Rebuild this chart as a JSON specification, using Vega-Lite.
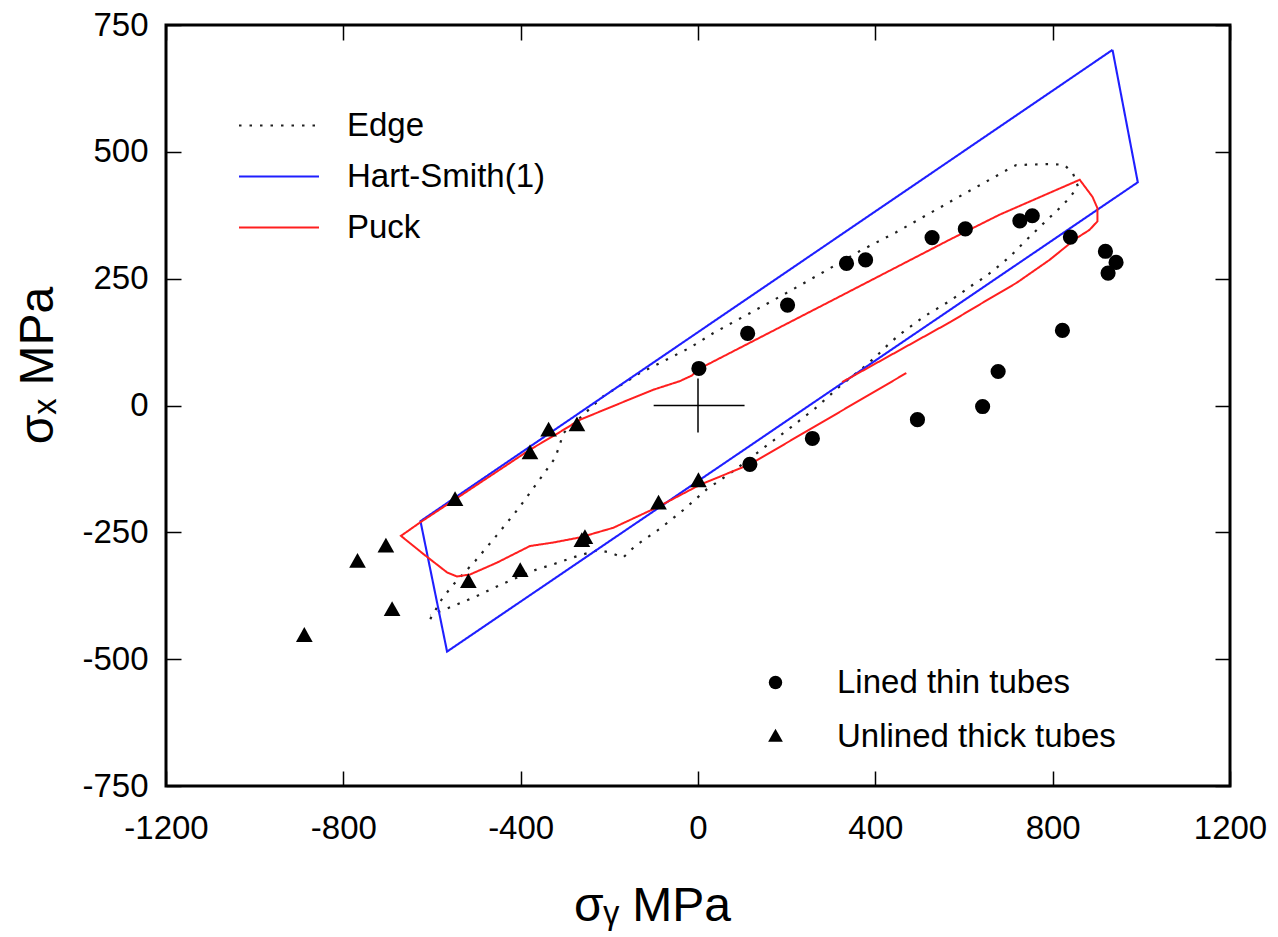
{
  "$schema": "https://vega.github.io/schema/vega-lite/v6.json",
  "width": 1064,
  "height": 761,
  "autosize": {"type": "none"},
  "padding": {"left": 166, "top": 25, "right": 48, "bottom": 151},
  "background": "white",
  "config": {
    "view": {"stroke": "black", "strokeWidth": 3},
    "axis": {
      "grid": false, "domain": false,
      "labelFont": "Liberation Sans", "labelFontSize": 33, "labelColor": "black",
      "labelFlush": false, "labelOverlap": false, "labelExpr": "'' + datum.value",
      "tickColor": "black", "tickWidth": 1.5, "tickSize": -15,
      "titleFont": "Liberation Sans", "titleFontSize": 48, "titleFontWeight": "normal", "titleColor": "black"
    },
    "legend": {"labelFont": "Liberation Sans", "labelFontSize": 33, "labelColor": "black", "padding": 0, "labelLimit": 0}
  },
  "datasets": {
    "curves": [
      {"series": "Edge", "seg": "E", "i": 1, "sigma_y": -604, "sigma_x": -421},
      {"series": "Edge", "seg": "E", "i": 2, "sigma_y": -578, "sigma_x": -382},
      {"series": "Edge", "seg": "E", "i": 3, "sigma_y": -555, "sigma_x": -356},
      {"series": "Edge", "seg": "E", "i": 4, "sigma_y": -502, "sigma_x": -306},
      {"series": "Edge", "seg": "E", "i": 5, "sigma_y": -454, "sigma_x": -256},
      {"series": "Edge", "seg": "E", "i": 6, "sigma_y": -405, "sigma_x": -203},
      {"series": "Edge", "seg": "E", "i": 7, "sigma_y": -364, "sigma_x": -154},
      {"series": "Edge", "seg": "E", "i": 8, "sigma_y": -322, "sigma_x": -103},
      {"series": "Edge", "seg": "E", "i": 9, "sigma_y": -303, "sigma_x": -54},
      {"series": "Edge", "seg": "E", "i": 10, "sigma_y": -214, "sigma_x": 18},
      {"series": "Edge", "seg": "E", "i": 11, "sigma_y": -131, "sigma_x": 64},
      {"series": "Edge", "seg": "E", "i": 12, "sigma_y": -74, "sigma_x": 89},
      {"series": "Edge", "seg": "E", "i": 13, "sigma_y": -18, "sigma_x": 114},
      {"series": "Edge", "seg": "E", "i": 14, "sigma_y": 35, "sigma_x": 143},
      {"series": "Edge", "seg": "E", "i": 15, "sigma_y": 117, "sigma_x": 182},
      {"series": "Edge", "seg": "E", "i": 16, "sigma_y": 200, "sigma_x": 222},
      {"series": "Edge", "seg": "E", "i": 17, "sigma_y": 281, "sigma_x": 262},
      {"series": "Edge", "seg": "E", "i": 18, "sigma_y": 364, "sigma_x": 304},
      {"series": "Edge", "seg": "E", "i": 19, "sigma_y": 446, "sigma_x": 341},
      {"series": "Edge", "seg": "E", "i": 20, "sigma_y": 527, "sigma_x": 381},
      {"series": "Edge", "seg": "E", "i": 21, "sigma_y": 608, "sigma_x": 421},
      {"series": "Edge", "seg": "E", "i": 22, "sigma_y": 664, "sigma_x": 448},
      {"series": "Edge", "seg": "E", "i": 23, "sigma_y": 690, "sigma_x": 461},
      {"series": "Edge", "seg": "E", "i": 24, "sigma_y": 718, "sigma_x": 474},
      {"series": "Edge", "seg": "E", "i": 25, "sigma_y": 799, "sigma_x": 476},
      {"series": "Edge", "seg": "E", "i": 26, "sigma_y": 827, "sigma_x": 474},
      {"series": "Edge", "seg": "E", "i": 27, "sigma_y": 846, "sigma_x": 457},
      {"series": "Edge", "seg": "E", "i": 28, "sigma_y": 857, "sigma_x": 432},
      {"series": "Edge", "seg": "E", "i": 29, "sigma_y": 838, "sigma_x": 409},
      {"series": "Edge", "seg": "E", "i": 30, "sigma_y": 812, "sigma_x": 386},
      {"series": "Edge", "seg": "E", "i": 31, "sigma_y": 784, "sigma_x": 363},
      {"series": "Edge", "seg": "E", "i": 32, "sigma_y": 757, "sigma_x": 340},
      {"series": "Edge", "seg": "E", "i": 33, "sigma_y": 729, "sigma_x": 316},
      {"series": "Edge", "seg": "E", "i": 34, "sigma_y": 703, "sigma_x": 293},
      {"series": "Edge", "seg": "E", "i": 35, "sigma_y": 673, "sigma_x": 271},
      {"series": "Edge", "seg": "E", "i": 36, "sigma_y": 647, "sigma_x": 253},
      {"series": "Edge", "seg": "E", "i": 37, "sigma_y": 620, "sigma_x": 238},
      {"series": "Edge", "seg": "E", "i": 38, "sigma_y": 594, "sigma_x": 222},
      {"series": "Edge", "seg": "E", "i": 39, "sigma_y": 566, "sigma_x": 205},
      {"series": "Edge", "seg": "E", "i": 40, "sigma_y": 511, "sigma_x": 176},
      {"series": "Edge", "seg": "E", "i": 41, "sigma_y": 455, "sigma_x": 140},
      {"series": "Edge", "seg": "E", "i": 42, "sigma_y": 429, "sigma_x": 120},
      {"series": "Edge", "seg": "E", "i": 43, "sigma_y": 403, "sigma_x": 98},
      {"series": "Edge", "seg": "E", "i": 44, "sigma_y": 376, "sigma_x": 77},
      {"series": "Edge", "seg": "E", "i": 45, "sigma_y": 320, "sigma_x": 38},
      {"series": "Edge", "seg": "E", "i": 46, "sigma_y": 268, "sigma_x": -3},
      {"series": "Edge", "seg": "E", "i": 47, "sigma_y": 211, "sigma_x": -42},
      {"series": "Edge", "seg": "E", "i": 48, "sigma_y": 155, "sigma_x": -79},
      {"series": "Edge", "seg": "E", "i": 49, "sigma_y": 80, "sigma_x": -129},
      {"series": "Edge", "seg": "E", "i": 50, "sigma_y": 20, "sigma_x": -165},
      {"series": "Edge", "seg": "E", "i": 51, "sigma_y": -33, "sigma_x": -206},
      {"series": "Edge", "seg": "E", "i": 52, "sigma_y": -86, "sigma_x": -243},
      {"series": "Edge", "seg": "E", "i": 53, "sigma_y": -142, "sigma_x": -277},
      {"series": "Edge", "seg": "E", "i": 54, "sigma_y": -169, "sigma_x": -300},
      {"series": "Edge", "seg": "E", "i": 55, "sigma_y": -198, "sigma_x": -290},
      {"series": "Edge", "seg": "E", "i": 56, "sigma_y": -225, "sigma_x": -285},
      {"series": "Edge", "seg": "E", "i": 57, "sigma_y": -273, "sigma_x": -297},
      {"series": "Edge", "seg": "E", "i": 58, "sigma_y": -333, "sigma_x": -315},
      {"series": "Edge", "seg": "E", "i": 59, "sigma_y": -364, "sigma_x": -323},
      {"series": "Edge", "seg": "E", "i": 60, "sigma_y": -442, "sigma_x": -352},
      {"series": "Edge", "seg": "E", "i": 61, "sigma_y": -495, "sigma_x": -374},
      {"series": "Edge", "seg": "E", "i": 62, "sigma_y": -551, "sigma_x": -395},
      {"series": "Edge", "seg": "E", "i": 63, "sigma_y": -604, "sigma_x": -413},
      {"series": "Hart-Smith(1)", "seg": "H", "i": 1, "sigma_y": 935, "sigma_x": 701},
      {"series": "Hart-Smith(1)", "seg": "H", "i": 2, "sigma_y": 992, "sigma_x": 440},
      {"series": "Hart-Smith(1)", "seg": "H", "i": 3, "sigma_y": -566, "sigma_x": -485},
      {"series": "Hart-Smith(1)", "seg": "H", "i": 4, "sigma_y": -626, "sigma_x": -228},
      {"series": "Hart-Smith(1)", "seg": "H", "i": 5, "sigma_y": 935, "sigma_x": 701},
      {"series": "Puck", "seg": "P", "i": 1, "sigma_y": 325, "sigma_x": 46},
      {"series": "Puck", "seg": "P", "i": 2, "sigma_y": 568, "sigma_x": 164},
      {"series": "Puck", "seg": "P", "i": 3, "sigma_y": 643, "sigma_x": 203},
      {"series": "Puck", "seg": "P", "i": 4, "sigma_y": 719, "sigma_x": 242},
      {"series": "Puck", "seg": "P", "i": 5, "sigma_y": 793, "sigma_x": 287},
      {"series": "Puck", "seg": "P", "i": 6, "sigma_y": 854, "sigma_x": 330},
      {"series": "Puck", "seg": "P", "i": 7, "sigma_y": 883, "sigma_x": 346},
      {"series": "Puck", "seg": "P", "i": 8, "sigma_y": 901, "sigma_x": 363},
      {"series": "Puck", "seg": "P", "i": 9, "sigma_y": 901, "sigma_x": 389},
      {"series": "Puck", "seg": "P", "i": 10, "sigma_y": 890, "sigma_x": 411},
      {"series": "Puck", "seg": "P", "i": 11, "sigma_y": 861, "sigma_x": 445},
      {"series": "Puck", "seg": "P", "i": 12, "sigma_y": 680, "sigma_x": 376},
      {"series": "Puck", "seg": "P", "i": 13, "sigma_y": 568, "sigma_x": 327},
      {"series": "Puck", "seg": "P", "i": 14, "sigma_y": 300, "sigma_x": 206},
      {"series": "Puck", "seg": "P", "i": 15, "sigma_y": 2, "sigma_x": 72},
      {"series": "Puck", "seg": "P", "i": 16, "sigma_y": -14, "sigma_x": 59},
      {"series": "Puck", "seg": "P", "i": 17, "sigma_y": -41, "sigma_x": 48},
      {"series": "Puck", "seg": "P", "i": 18, "sigma_y": -101, "sigma_x": 31},
      {"series": "Puck", "seg": "P", "i": 19, "sigma_y": -160, "sigma_x": 10},
      {"series": "Puck", "seg": "P", "i": 20, "sigma_y": -266, "sigma_x": -28},
      {"series": "Puck", "seg": "P", "i": 21, "sigma_y": -326, "sigma_x": -60},
      {"series": "Puck", "seg": "P", "i": 22, "sigma_y": -379, "sigma_x": -87},
      {"series": "Puck", "seg": "P", "i": 23, "sigma_y": -548, "sigma_x": -185},
      {"series": "Puck", "seg": "P", "i": 24, "sigma_y": -626, "sigma_x": -230},
      {"series": "Puck", "seg": "P", "i": 25, "sigma_y": -670, "sigma_x": -257},
      {"series": "Puck", "seg": "P", "i": 26, "sigma_y": -619, "sigma_x": -293},
      {"series": "Puck", "seg": "P", "i": 27, "sigma_y": -566, "sigma_x": -329},
      {"series": "Puck", "seg": "P", "i": 28, "sigma_y": -544, "sigma_x": -337},
      {"series": "Puck", "seg": "P", "i": 29, "sigma_y": -514, "sigma_x": -333},
      {"series": "Puck", "seg": "P", "i": 30, "sigma_y": -454, "sigma_x": -310},
      {"series": "Puck", "seg": "P", "i": 31, "sigma_y": -379, "sigma_x": -277},
      {"series": "Puck", "seg": "P", "i": 32, "sigma_y": -326, "sigma_x": -270},
      {"series": "Puck", "seg": "P", "i": 33, "sigma_y": -266, "sigma_x": -260},
      {"series": "Puck", "seg": "P", "i": 34, "sigma_y": -191, "sigma_x": -241},
      {"series": "Puck", "seg": "P", "i": 35, "sigma_y": -93, "sigma_x": -201},
      {"series": "Puck", "seg": "P", "i": 36, "sigma_y": 5, "sigma_x": -156},
      {"series": "Puck", "seg": "P", "i": 37, "sigma_y": 117, "sigma_x": -116},
      {"series": "Puck", "seg": "P", "i": 38, "sigma_y": 470, "sigma_x": 64}
    ],
    "tests": [
      {"type": "Lined thin tubes", "sigma_y": 2, "sigma_x": 73},
      {"type": "Lined thin tubes", "sigma_y": 112, "sigma_x": 142},
      {"type": "Lined thin tubes", "sigma_y": 202, "sigma_x": 198},
      {"type": "Lined thin tubes", "sigma_y": 335, "sigma_x": 280},
      {"type": "Lined thin tubes", "sigma_y": 378, "sigma_x": 287},
      {"type": "Lined thin tubes", "sigma_y": 528, "sigma_x": 331},
      {"type": "Lined thin tubes", "sigma_y": 603, "sigma_x": 348},
      {"type": "Lined thin tubes", "sigma_y": 726, "sigma_x": 364},
      {"type": "Lined thin tubes", "sigma_y": 754, "sigma_x": 374},
      {"type": "Lined thin tubes", "sigma_y": 840, "sigma_x": 332},
      {"type": "Lined thin tubes", "sigma_y": 919, "sigma_x": 304},
      {"type": "Lined thin tubes", "sigma_y": 943, "sigma_x": 282},
      {"type": "Lined thin tubes", "sigma_y": 925, "sigma_x": 261},
      {"type": "Lined thin tubes", "sigma_y": 822, "sigma_x": 148},
      {"type": "Lined thin tubes", "sigma_y": 677, "sigma_x": 67},
      {"type": "Lined thin tubes", "sigma_y": 642, "sigma_x": -2},
      {"type": "Lined thin tubes", "sigma_y": 495, "sigma_x": -28},
      {"type": "Lined thin tubes", "sigma_y": 258, "sigma_x": -65},
      {"type": "Lined thin tubes", "sigma_y": 117, "sigma_x": -116},
      {"type": "Unlined thick tubes", "sigma_y": -888, "sigma_x": -454},
      {"type": "Unlined thick tubes", "sigma_y": -768, "sigma_x": -308},
      {"type": "Unlined thick tubes", "sigma_y": -704, "sigma_x": -278},
      {"type": "Unlined thick tubes", "sigma_y": -690, "sigma_x": -403},
      {"type": "Unlined thick tubes", "sigma_y": -548, "sigma_x": -186},
      {"type": "Unlined thick tubes", "sigma_y": -518, "sigma_x": -348},
      {"type": "Unlined thick tubes", "sigma_y": -401, "sigma_x": -326},
      {"type": "Unlined thick tubes", "sigma_y": -379, "sigma_x": -94},
      {"type": "Unlined thick tubes", "sigma_y": -337, "sigma_x": -49},
      {"type": "Unlined thick tubes", "sigma_y": -273, "sigma_x": -39},
      {"type": "Unlined thick tubes", "sigma_y": -262, "sigma_x": -267},
      {"type": "Unlined thick tubes", "sigma_y": -255, "sigma_x": -261},
      {"type": "Unlined thick tubes", "sigma_y": -89, "sigma_x": -193},
      {"type": "Unlined thick tubes", "sigma_y": 1, "sigma_x": -149}
    ],
    "origin": [
      {"a": -100, "a2": 105, "b": 0, "b2": 0},
      {"a": 0, "a2": 0, "b": -53, "b2": 53}
    ]
  },
  "layer": [
    {
      "data": {"name": "curves"},
      "mark": {"type": "line", "strokeCap": "butt"},
      "encoding": {
        "x": {
          "field": "sigma_y", "type": "quantitative",
          "scale": {"domain": [-1200, 1200], "nice": false, "zero": false},
          "axis": {
            "orient": "bottom", "values": [-1200, -800, -400, 0, 400, 800, 1200],
            "labelPadding": 41, "title": "σᵧ  MPa",
            "titleX": 486, "titleY": 134, "titleBaseline": "alphabetic", "titleAlign": "center"
          }
        },
        "y": {
          "field": "sigma_x", "type": "quantitative",
          "scale": {"domain": [-750, 750], "nice": false, "zero": false},
          "axis": {
            "orient": "left", "values": [-750, -500, -250, 0, 250, 500, 750],
            "labelPadding": 33, "title": "σₓ  MPa",
            "titleX": -114, "titleY": 340, "titleAngle": 270, "titleBaseline": "alphabetic", "titleAlign": "center"
          }
        },
        "color": {
          "field": "series", "type": "nominal",
          "scale": {"domain": ["Edge", "Hart-Smith(1)", "Puck"], "range": ["#202020", "#1f1fff", "#ff1f1f"]},
          "legend": {
            "orient": "none", "legendX": 96.5, "legendY": 84, "title": null,
            "symbolType": "M-4,0H4", "symbolSize": 400, "labelOffset": 51.5, "rowPadding": 17
          }
        },
        "strokeDash": {
          "field": "series", "type": "nominal",
          "scale": {"domain": ["Edge", "Hart-Smith(1)", "Puck"], "range": [[2.5, 8], [1, 0], [1, 0]]}
        },
        "strokeWidth": {
          "field": "series", "type": "nominal",
          "scale": {"domain": ["Edge", "Hart-Smith(1)", "Puck"], "range": [2.2, 2, 3]}
        },
        "detail": {"field": "seg", "type": "nominal"},
        "order": {"field": "i", "type": "quantitative"}
      }
    },
    {
      "data": {"name": "tests"},
      "mark": {"type": "point", "filled": true, "color": "black", "opacity": 1, "size": 230},
      "encoding": {
        "x": {"field": "sigma_y", "type": "quantitative", "scale": {"domain": [-1200, 1200], "nice": false, "zero": false}, "axis": null},
        "y": {"field": "sigma_x", "type": "quantitative", "scale": {"domain": [-750, 750], "nice": false, "zero": false}, "axis": null},
        "shape": {
          "field": "type", "type": "nominal",
          "scale": {"domain": ["Lined thin tubes", "Unlined thick tubes"], "range": ["circle", "M0,-1.15L1.1,0.8L-1.1,0.8Z"]},
          "legend": {
            "orient": "none", "legendX": 593, "legendY": 641, "title": null,
            "symbolSize": 180, "labelOffset": 45, "rowPadding": 20,
            "symbolFillColor": "black", "symbolStrokeColor": "black"
          }
        }
      }
    },
    {
      "data": {"name": "origin"},
      "mark": {"type": "rule", "color": "black", "strokeWidth": 1.5},
      "encoding": {
        "x": {
          "field": "a", "type": "quantitative",
          "scale": {"domain": [-1200, 1200], "nice": false, "zero": false},
          "axis": {"orient": "top", "labels": false, "title": null, "values": [-1200, -800, -400, 0, 400, 800, 1200]}
        },
        "x2": {"field": "a2"},
        "y": {
          "field": "b", "type": "quantitative",
          "scale": {"domain": [-750, 750], "nice": false, "zero": false},
          "axis": {"orient": "right", "labels": false, "title": null, "values": [-750, -500, -250, 0, 250, 500, 750]}
        },
        "y2": {"field": "b2"}
      }
    }
  ],
  "resolve": {"axis": {"x": "independent", "y": "independent"}}
}
